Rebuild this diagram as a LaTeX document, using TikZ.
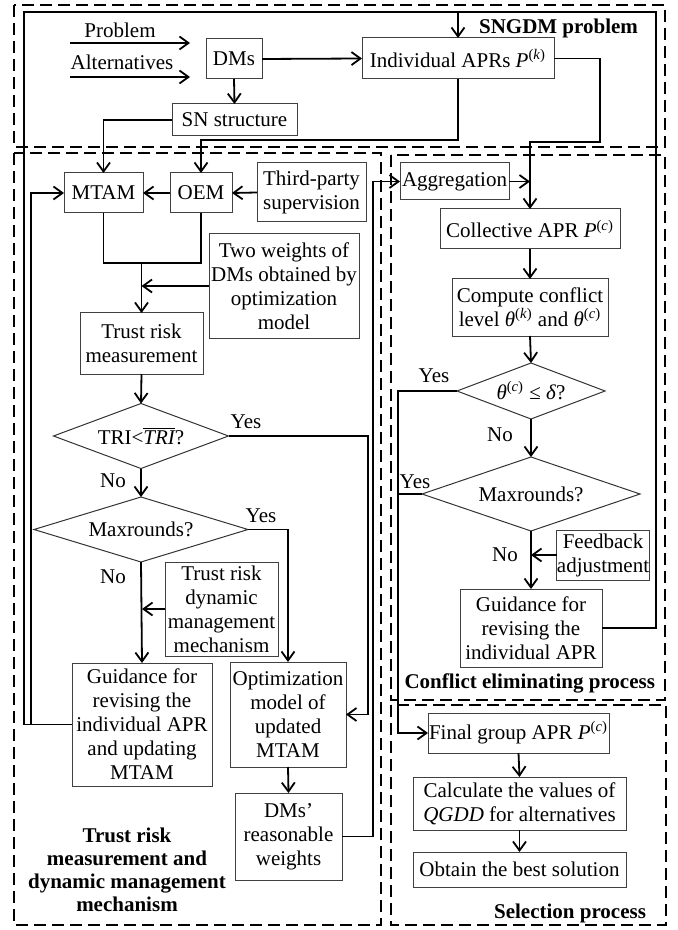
\documentclass[tikz,border=0pt]{standalone}
\usepackage{fontspec}
\setmainfont{Liberation Serif}
\usetikzlibrary{shapes.geometric,arrows.meta,calc}
\begin{document}
\begin{tikzpicture}[x=0.5pt,y=-0.5pt,
  every node/.style={font=\fontsize{10.5}{12}\selectfont},
  box/.style={draw=black!75, line width=0.5pt, inner sep=0pt, outer sep=0pt, align=center},
  dia/.style={draw=black!80, line width=0.5pt, diamond, inner sep=0pt, outer sep=0pt, aspect=2.5},
  con/.style={line width=0.9pt},
  arr/.style={con, -{Straight Barb[length=4.5pt,width=6.5pt]}},
  frame/.style={line width=1.3pt, dash pattern=on 6pt off 3pt},
  lbl/.style={font=\fontsize{10.5}{11.5}\selectfont\bfseries, align=center},
  txt/.style={inner sep=0pt},
]
\useasboundingbox (0,0) rectangle (678,930);

% dashed frames
\draw[frame] (14,5) rectangle (665,147);
\draw[frame] (14,153) rectangle (381,925);
\draw[frame] (391,155) rectangle (665,700);
\draw[frame] (391,705) rectangle (666,925);

% frame labels
\node[lbl, anchor=east] (lsn) at (645,28) {SNGDM problem};
\node[lbl] (ltr) at (127,870) {Trust risk\\measurement and\\dynamic management\\mechanism};
\node[lbl, anchor=east] (lce) at (662,683) {Conflict eliminating process};
\node[lbl, anchor=east] (lse) at (653,913) {Selection process};

% top part
\node[txt] (tprob) at (120,30) {Problem};
\node[txt] (talt) at (122,62) {Alternatives};
\coordinate (pa) at (70,43); \coordinate (pb) at (190,43);
\coordinate (aa) at (70,77); \coordinate (ab) at (190,77);
\node[box, minimum width=28pt, minimum height=20pt] (dms) at (234,59) {DMs};
\node[box, minimum width=62.5pt, minimum height=16pt] (sn) at (234.5,120) {SN structure};
\node[box, minimum width=96pt, minimum height=20.5pt] (aprs) at (458,58.5) {Individual APRs \textit{P}\textsuperscript{(\textit{k})}};

% left column
\node[box, minimum width=39.5pt, minimum height=20pt] (mtam) at (103.5,193) {MTAM};
\node[box, minimum width=31pt, minimum height=20pt] (oem) at (201,193) {OEM};
\node[box, minimum width=54.5pt, minimum height=29.5pt] (third) at (311.5,192.5) {Third-party\\supervision};
\node[box, minimum width=75pt, minimum height=52pt] (two) at (284,286) {Two weights of\\DMs obtained by\\optimization\\model};
\node[box, minimum width=61.5pt, minimum height=30.5pt] (trm) at (141.5,343.5) {Trust risk\\measurement};
\node[dia, minimum width=87.5pt, minimum height=32.5pt] (tri) at (141,436) {TRI<$\overline{\hbox{\itshape TRI}}$?};
\node[dia, minimum width=107pt, minimum height=32.5pt] (maxl) at (141,529.5) {Maxrounds?};
\node[box, minimum width=56.5pt, minimum height=47pt] (dyn) at (221.5,609) {Trust risk\\dynamic\\management\\mechanism};
\node[box, minimum width=70pt, minimum height=61.5pt] (guidl) at (142,724.5) {Guidance for\\revising the\\individual APR\\and updating\\MTAM};
\node[box, minimum width=58pt, minimum height=52.5pt] (opt) at (288,714.5) {Optimization\\model of\\updated\\MTAM};
\node[box, minimum width=53.5pt, minimum height=43.5pt] (wts) at (288.5,836.5) {DMs’\\reasonable\\weights};

\node[txt] (ytri) at (246,422) {Yes};
\node[txt] (ntri) at (113,481) {No};
\node[txt] (ymaxl) at (261,516) {Yes};
\node[txt] (nmaxl) at (113,577) {No};

% right column
\node[box, minimum width=54.5pt, minimum height=18.5pt] (agg) at (454.5,181.5) {Aggregation};
\node[box, minimum width=90pt, minimum height=20pt] (coll) at (530,229) {Collective APR \textit{P}\textsuperscript{(\textit{c})}};
\node[box, minimum width=78pt, minimum height=28.5pt] (comp) at (530,307.5) {Compute conflict\\level \textit{θ}\textsuperscript{(\textit{k})} and \textit{θ}\textsuperscript{(\textit{c})}};
\node[dia, minimum width=74pt, minimum height=28pt] (theta) at (531,391) {\textit{θ}\textsuperscript{(\textit{c})} ≤ \textit{δ}?};
\node[dia, minimum width=109pt, minimum height=37pt] (maxr) at (531,494) {Maxrounds?};
\node[box, minimum width=46pt, minimum height=25pt] (fb) at (603,555) {Feedback\\adjustment};
\node[box, minimum width=71pt, minimum height=39pt] (guidr) at (531,628) {Guidance for\\revising the\\individual APR};
\node[box, minimum width=90.5pt, minimum height=20pt] (final) at (518.5,733) {Final group APR \textit{P}\textsuperscript{(\textit{c})}};
\node[box, minimum width=106.5pt, minimum height=26.5pt] (calc) at (519.5,803.5) {Calculate the values of\\\textit{QGDD} for alternatives};
\node[box, minimum width=106.5pt, minimum height=17.5pt] (best) at (519.5,869.5) {Obtain the best solution};

\node[txt] (ytheta) at (434,376) {Yes};
\node[txt] (ntheta) at (500,435) {No};
\node[txt] (ymaxr) at (415,482) {Yes};
\node[txt] (nmaxr) at (505,555) {No};

% junction coordinates
\coordinate (tl) at (24,12);
\coordinate (tr) at (656,12);
\coordinate (ml) at (31,193);
\coordinate (j1) at (458,140);
\coordinate (j2) at (600,58.5);
\coordinate (j3) at (600,142);
\coordinate (j4) at (530,142);
\coordinate (jm) at (141.5,263);
\coordinate (ag) at (373,181.5);
\coordinate (yl) at (368,436);
\coordinate (th) at (398,391);
\coordinate (thb) at (398,733);

% connectors: top
\draw[arr] (pa) -- (pb);
\draw[arr] (aa) -- (ab);
\draw[arr] (dms.east) -- (aprs.west);
\draw[arr] (dms.south) -- (sn.north);
\draw[arr] (sn.west) -| (mtam.north);
\draw[arr] (aprs.south) -- (j1) -| (oem.north);
\draw[arr] (aprs.east) -- (j2) -- (j3) -- (j4) -- (coll.north);
\draw[arr] (agg.east) -- (agg.east -| coll.north);

% feedback loops
\draw[arr] (guidr.east) -| (tr) -| (aprs.north);
\draw[con] (guidl.west) -| (tl) -- (tr);
\draw[arr] (guidl.west) -| (ml) -- (mtam.west);

% left column
\draw[arr] (oem.west) -- (mtam.east);
\draw[arr] (third.west) -- (oem.east);
\draw[con] (mtam.south) |- (jm);
\draw[con] (oem.south) |- (jm);
\draw[arr] (jm) -- (trm.north);
\draw[arr] (two.west) -- (two.west -| trm.north);
\draw[arr] (trm.south) -- (tri.north);
\draw[arr] (tri.south) -- (maxl.north);
\draw[arr] (maxl.south) -- (guidl.north);
\draw[arr] (dyn.west) -- (dyn.west -| guidl.north);
\draw[arr] (tri.east) -- (yl) |- (opt.east);
\draw[arr] (maxl.east) -| (opt.north);
\draw[arr] (opt.south) -- (wts.north);
\draw[arr] (wts.east) -| (ag) -- (agg.west);

% right column
\draw[arr] (coll.south) -- (comp.north);
\draw[arr] (comp.south) -- (theta.north);
\draw[arr] (theta.south) -- (maxr.north);
\draw[arr] (maxr.south) -- (guidr.north);
\draw[arr] (fb.west) -- (fb.west -| guidr.north);
\draw[arr] (theta.west) -- (th) -- (thb) -- (final.west);
\draw[con] (maxr.west) -- (maxr.west -| th);
\draw[arr] (final.south) -- (calc.north);
\draw[arr] (calc.south) -- (best.north);
\end{tikzpicture}
\end{document}
